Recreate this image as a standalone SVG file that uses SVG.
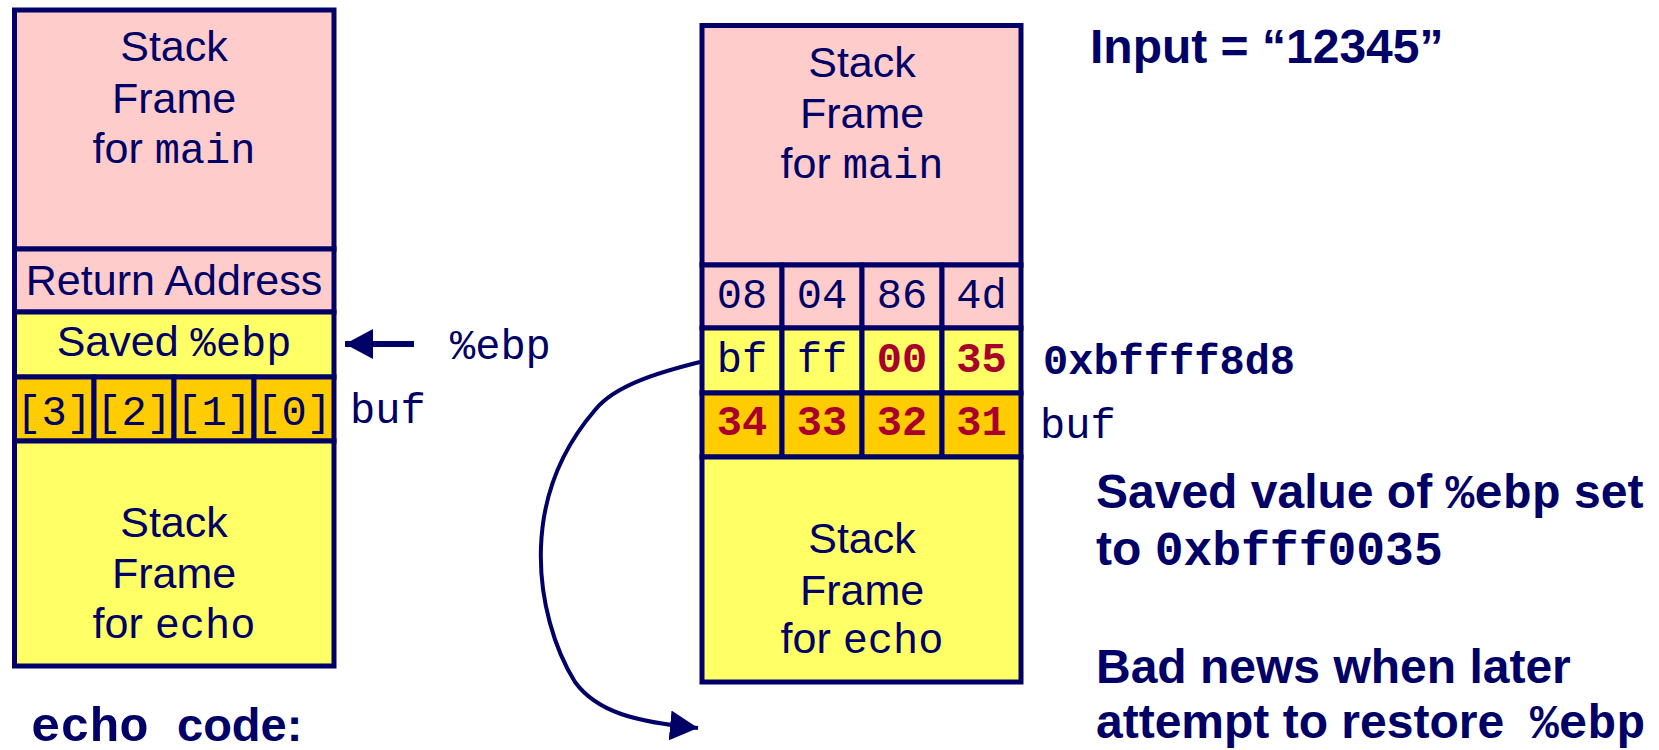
<svg xmlns="http://www.w3.org/2000/svg" width="1659" height="750" viewBox="0 0 1659 750">
<style>
.c{stroke:#000066;stroke-width:5}
.pk{fill:#ffcccc}.yl{fill:#ffff66}.or{fill:#ffcc00}
.s{font-family:"Liberation Sans",Arial,sans-serif;fill:#000066;font-size:43px}
.m{font-family:"Liberation Mono","Courier New",monospace;fill:#000066;font-size:42px}
.b{font-weight:bold}
.r{fill:#a8002a}
.mid{text-anchor:middle}
.big{font-size:48px}
</style>
<defs>
<marker id="ah2" viewBox="0 0 28 30" refX="28" refY="15" markerWidth="28" markerHeight="30" orient="auto" markerUnits="userSpaceOnUse">
<path d="M0,0 L28,15 L0,30 Z" fill="#000066"/>
</marker>
</defs>

<g id="left-stack">
<g id="left-main"><rect class="c pk" x="14.5" y="10" width="319.5" height="239"/>
<text class="s mid" x="174" y="61">Stack</text>
<text class="s mid" x="174" y="113">Frame</text>
<text class="s mid" x="174" y="163">for <tspan class="m">main</tspan></text></g>
<g id="left-ret"><rect class="c pk" x="14.5" y="249" width="319.5" height="63"/>
<text class="s mid" x="174" y="295">Return Address</text></g>
<g id="left-saved"><rect class="c yl" x="14.5" y="312" width="319.5" height="65"/>
<text class="s mid" x="174" y="356">Saved <tspan class="m">%ebp</tspan></text></g>
<g id="left-buf">
<rect class="c or" x="14.5" y="377" width="79.5" height="64"/>
<rect class="c or" x="94" y="377" width="80" height="64"/>
<rect class="c or" x="174" y="377" width="80" height="64"/>
<rect class="c or" x="254" y="377" width="80" height="64"/>
<text class="m mid" x="54" y="425">[3]</text>
<text class="m mid" x="134" y="425">[2]</text>
<text class="m mid" x="214" y="425">[1]</text>
<text class="m mid" x="294" y="425">[0]</text>
</g>
<g id="left-echo"><rect class="c yl" x="14.5" y="441" width="319.5" height="225"/>
<text class="s mid" x="174" y="537">Stack</text>
<text class="s mid" x="174" y="588">Frame</text>
<text class="s mid" x="174" y="638">for <tspan class="m">echo</tspan></text></g>
</g>

<g id="left-labels">
<text class="m" x="450" y="359">%ebp</text>
<text class="m" x="350" y="423">buf</text>
<text class="s b" style="font-size:47px" x="31" y="741"><tspan class="m b" style="font-size:49px">echo</tspan><tspan x="177">code:</tspan></text>
</g>

<g id="right-stack">
<g id="right-main"><rect class="c pk" x="702" y="25.5" width="319" height="239.5"/>
<text class="s mid" x="862" y="77">Stack</text>
<text class="s mid" x="862" y="128">Frame</text>
<text class="s mid" x="862" y="178">for <tspan class="m">main</tspan></text></g>
<g id="right-row1">
<rect class="c pk" x="702" y="265" width="80" height="63"/>
<rect class="c pk" x="782" y="265" width="80" height="63"/>
<rect class="c pk" x="862" y="265" width="80" height="63"/>
<rect class="c pk" x="942" y="265" width="79" height="63"/>
<text class="m mid" x="742" y="308">08</text>
<text class="m mid" x="822" y="308">04</text>
<text class="m mid" x="902" y="308">86</text>
<text class="m mid" x="981.5" y="308">4d</text>
</g>
<g id="right-row2">
<rect class="c yl" x="702" y="328" width="80" height="65"/>
<rect class="c yl" x="782" y="328" width="80" height="65"/>
<rect class="c yl" x="862" y="328" width="80" height="65"/>
<rect class="c yl" x="942" y="328" width="79" height="65"/>
<text class="m mid" x="742" y="372">bf</text>
<text class="m mid" x="822" y="372">ff</text>
<text class="m mid b r" x="902" y="372">00</text>
<text class="m mid b r" x="981.5" y="372">35</text>
</g>
<g id="right-row3">
<rect class="c or" x="702" y="393" width="80" height="64"/>
<rect class="c or" x="782" y="393" width="80" height="64"/>
<rect class="c or" x="862" y="393" width="80" height="64"/>
<rect class="c or" x="942" y="393" width="79" height="64"/>
<text class="m mid b r" x="742" y="435">34</text>
<text class="m mid b r" x="822" y="435">33</text>
<text class="m mid b r" x="902" y="435">32</text>
<text class="m mid b r" x="981.5" y="435">31</text>
</g>
<g id="right-echo"><rect class="c yl" x="702" y="457" width="319" height="225"/>
<text class="s mid" x="862" y="553">Stack</text>
<text class="s mid" x="862" y="605">Frame</text>
<text class="s mid" x="862" y="653">for <tspan class="m">echo</tspan></text></g>
</g>

<g id="right-labels">
<text class="s b big" x="1090" y="63">Input = “12345”</text>
<text class="m b" x="1043" y="374">0xbffff8d8</text>
<text class="m" x="1040" y="438">buf</text>
<text class="s b big" x="1096" y="508">Saved value of <tspan class="m b big">%ebp</tspan> set</text>
<text class="s b big" x="1096" y="565">to <tspan class="m b big">0xbfff0035</tspan></text>
<text class="s b big" x="1096" y="683">Bad news when later</text>
<text class="s b big" x="1096" y="738">attempt to restore<tspan class="m b big" x="1530">%ebp</tspan></text>
</g>

<g id="connectors" fill="none" stroke="#000066">
<path d="M414,344 L345,344" stroke-width="6" marker-end="url(#ah2)"/>
<path d="M700,362 C660,372 615,385 595,410 C565,445 543,490 541,547 C539,600 555,650 575,682 C597,712 635,722 698,728" stroke-width="4" marker-end="url(#ah2)"/>
</g>
</svg>
